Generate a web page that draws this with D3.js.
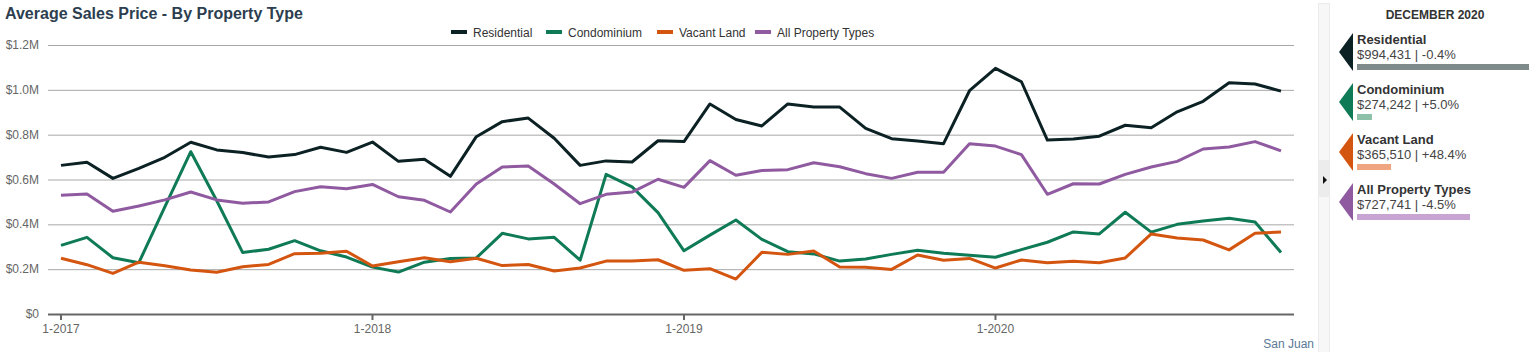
<!DOCTYPE html>
<html>
<head>
<meta charset="utf-8">
<script src="https://cdn.jsdelivr.net/npm/d3@7"></script>
<style>
  body { margin: 0; background: #fff; font-family: "Liberation Sans", Arial, sans-serif; }
  svg { display: block; }
</style>
</head>
<body>
<svg id="chart" width="1533" height="352"></svg>
<script>
// months Jan 2017 .. Dec 2020
var months = [];
for (var yr = 2017; yr <= 2020; yr++) {
  for (var m = 1; m <= 12; m++) months.push(m + "-" + yr);
}
var tickLabels = ["1-2017", "1-2018", "1-2019", "1-2020"];

var seriesNames = ["Residential", "Condominium", "Vacant Land", "All Property Types"];
var seriesColors = ["#0c2124", "#0f7a56", "#d4550f", "#8f5aa0"];
var barColors = ["#7f8a8b", "#8cc0a9", "#efa57f", "#c8a4d3"];

var residential = [
  663000, 677000, 605000, 650000, 699000, 766000, 732000, 720000, 700000, 711000, 744000, 721000,
  767000, 681000, 690000, 614000, 791000, 858000, 874000, 784000, 663000, 683000, 678000, 773000,
  769000, 937000, 868000, 839000, 937000, 923000, 923000, 828000, 782000, 772000, 760000, 996000,
  1096000, 1036000, 776000, 781000, 793000, 842000, 831000, 902000, 949000, 1032000, 1026000, 994431
];
var condominium = [
  306000, 342000, 251000, 229000, 478000, 724000, 505000, 274000, 289000, 327000, 282000, 254000,
  209000, 187000, 231000, 248000, 250000, 360000, 335000, 342000, 240000, 623000, 567000, 452000,
  282000, 352000, 419000, 333000, 278000, 268000, 236000, 245000, 266000, 284000, 271000, 262000,
  253000, 287000, 320000, 366000, 357000, 454000, 365000, 400000, 415000, 427000, 410000, 274242
];
var vacantLand = [
  249000, 220000, 181000, 231000, 215000, 196000, 186000, 211000, 221000, 269000, 271000, 280000,
  214000, 233000, 251000, 233000, 249000, 216000, 221000, 192000, 205000, 236000, 236000, 242000,
  195000, 202000, 156000, 275000, 266000, 281000, 210000, 209000, 199000, 263000, 240000, 248000,
  205000, 241000, 229000, 235000, 229000, 250000, 357000, 339000, 330000, 286000, 360000, 365510
];
var allTypes = [
  530000, 535000, 458000, 482000, 509000, 544000, 509000, 494000, 500000, 546000, 568000, 559000,
  578000, 523000, 507000, 455000, 580000, 656000, 660000, 580000, 492000, 534000, 544000, 601000,
  565000, 684000, 619000, 640000, 644000, 675000, 657000, 626000, 605000, 632000, 632000, 760000,
  749000, 711000, 534000, 581000, 580000, 623000, 656000, 681000, 736000, 745000, 769000, 727741
];

var panelTitle = "DECEMBER 2020";
var panelValues = ["$994,431 | -0.4%", "$274,242 | +5.0%", "$365,510 | +48.4%", "$727,741 | -4.5%"];
var panelShare = [1.0, 0.087, 0.198, 0.657];

var allSeries = [residential, condominium, vacantLand, allTypes];

var svg = d3.select("#chart");

var xScale = d3.scalePoint().domain(months).range([61, 1281]);
var yScale = d3.scaleLinear().domain([0, 1200000]).range([314, 45]);

// title
svg.append("text")
  .attr("x", 5).attr("y", 19)
  .attr("font-size", 16).attr("font-weight", "bold")
  .attr("fill", "#2c3e50")
  .text("Average Sales Price - By Property Type");

// grid
var yTicks = d3.range(0, 1200001, 200000);
svg.append("g").selectAll("line")
  .data(yTicks.slice(1))
  .join("line")
  .attr("x1", 48).attr("x2", 1294)
  .attr("y1", d => yScale(d) + 0.5).attr("y2", d => yScale(d) + 0.5)
  .attr("stroke", "#a8a8a8").attr("stroke-width", 1);

svg.append("g").selectAll("text")
  .data(yTicks)
  .join("text")
  .attr("x", 39).attr("y", d => yScale(d) + 4)
  .attr("text-anchor", "end")
  .attr("font-size", 12).attr("fill", "#666")
  .text(d => d === 0 ? "$0" : "$" + (d / 1e6).toFixed(1) + "M");

// x axis
svg.append("line")
  .attr("x1", 48).attr("x2", 1294)
  .attr("y1", 314.5).attr("y2", 314.5)
  .attr("stroke", "#666").attr("stroke-width", 2);

var xAxis = svg.append("g");
xAxis.selectAll("line")
  .data(tickLabels)
  .join("line")
  .attr("x1", d => xScale(d)).attr("x2", d => xScale(d))
  .attr("y1", 314).attr("y2", 320)
  .attr("stroke", "#666").attr("stroke-width", 2);
xAxis.selectAll("text")
  .data(tickLabels)
  .join("text")
  .attr("x", d => xScale(d)).attr("y", 333)
  .attr("text-anchor", "middle")
  .attr("font-size", 12).attr("fill", "#666")
  .text(d => d);

// lines
var line = d3.line()
  .x((d, i) => xScale(months[i]))
  .y(d => yScale(d));

svg.append("g").selectAll("path")
  .data(allSeries)
  .join("path")
  .attr("d", d => line(d))
  .attr("fill", "none")
  .attr("stroke", (d, i) => seriesColors[i])
  .attr("stroke-width", 3)
  .attr("stroke-linejoin", "round");

// legend
var legendX = [451, 546, 657, 755];
var legend = svg.append("g").selectAll("g")
  .data(seriesNames)
  .join("g")
  .attr("transform", (d, i) => "translate(" + legendX[i] + ",32)");
legend.append("rect")
  .attr("x", 0).attr("y", -2).attr("width", 16).attr("height", 4)
  .attr("fill", (d, i) => seriesColors[i]);
legend.append("text")
  .attr("x", 22).attr("y", 4.5)
  .attr("font-size", 12).attr("fill", "#333")
  .text(d => d);

// source label
svg.append("text")
  .attr("x", 1314).attr("y", 348)
  .attr("text-anchor", "end")
  .attr("font-size", 12).attr("fill", "#5b7896")
  .text("San Juan");

// side strip
svg.append("rect")
  .attr("x", 1318.5).attr("y", 3.5).attr("width", 11).attr("height", 350)
  .attr("fill", "#f7f7f7").attr("stroke", "#ebebeb");
svg.append("rect")
  .attr("x", 1319).attr("y", 160).attr("width", 10).attr("height", 37)
  .attr("fill", "#ececec");
svg.append("path")
  .attr("d", "M1323,176L1327,180L1323,184Z")
  .attr("fill", "#111");

// right panel
svg.append("text")
  .attr("x", 1435).attr("y", 19)
  .attr("text-anchor", "middle")
  .attr("font-size", 12).attr("font-weight", "bold")
  .attr("fill", "#333")
  .text(panelTitle);

var barScale = d3.scaleLinear().domain([0, 1]).range([0, 172]);

var items = svg.append("g").selectAll("g")
  .data(seriesNames)
  .join("g")
  .attr("transform", (d, i) => "translate(0," + (33 + i * 50) + ")");
items.append("path")
  .attr("d", "M1339,19L1353,0L1353,38Z")
  .attr("fill", (d, i) => seriesColors[i]);
items.append("text")
  .attr("x", 1357).attr("y", 11)
  .attr("font-size", 13).attr("font-weight", "bold")
  .attr("fill", "#333")
  .text(d => d);
items.append("text")
  .attr("x", 1357).attr("y", 26)
  .attr("font-size", 13).attr("fill", "#444")
  .text((d, i) => panelValues[i]);
items.append("rect")
  .attr("x", 1357).attr("y", 31).attr("height", 6)
  .attr("width", (d, i) => barScale(panelShare[i]))
  .attr("fill", (d, i) => barColors[i]);
</script>
</body>
</html>
